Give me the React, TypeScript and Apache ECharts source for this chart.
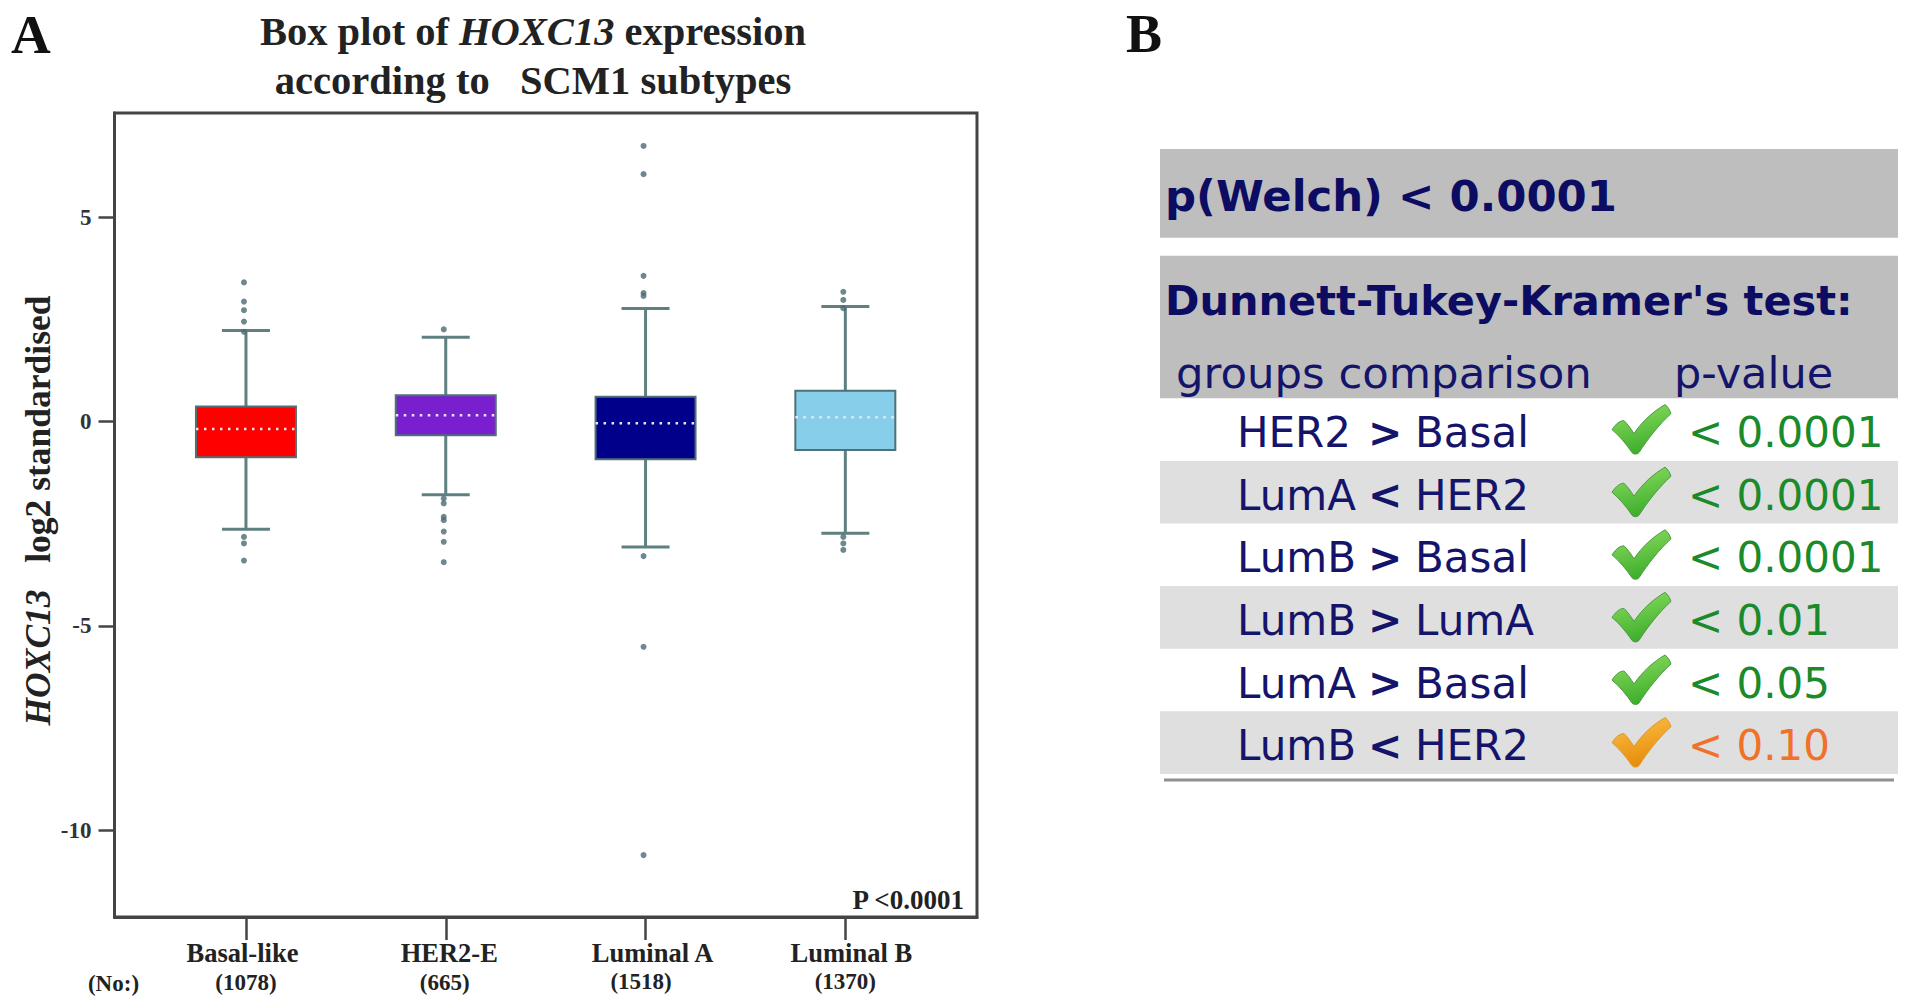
import React, { useEffect, useRef } from "react";
import * as echarts from "echarts";

const categories = ["Basal-like", "HER2-E", "Luminal A", "Luminal B"];
const counts = ["(1078)", "(665)", "(1518)", "(1370)"];
const boxColors = ["#ff0000", "#7a1fd0", "#00008b", "#87ceeb"];
// [index, low whisker, q1, median, q3, high whisker]
const boxValues = [
  [0, -2.63, -0.87, -0.18, 0.37, 2.23],
  [1, -1.79, -0.33, 0.16, 0.65, 2.07],
  [2, -3.07, -0.92, -0.04, 0.61, 2.77],
  [3, -2.73, -0.69, 0.11, 0.76, 2.82],
];
const basalOutliers = [3.41, 2.94, 2.73, 2.45, 2.2, -2.82, -2.98, -3.4];
const her2Outliers = [2.26, -1.88, -2.0, -2.33, -2.41, -2.69, -2.94, -3.44];
const lumAOutliers = [6.75, 6.06, 3.57, 3.15, 3.08, -3.29, -5.51, -10.61];
const lumBOutliers = [3.18, 2.98, 2.78, -2.82, -2.98, -3.14];
const yTicks = [-10, -5, 0, 5];

const comparisons = [
  ["HER2", ">", "Basal"],
  ["LumA", "<", "HER2"],
  ["LumB", ">", "Basal"],
  ["LumB", ">", "LumA"],
  ["LumA", ">", "Basal"],
  ["LumB", "<", "HER2"],
];
const pValues = ["< 0.0001", "< 0.0001", "< 0.0001", "< 0.01", "< 0.05", "< 0.10"];
const warnRows = [false, false, false, false, false, true];

const SERIF = "Liberation Serif";
const SANS = "DejaVu Sans";
const NAVY = "#14146b";
const STEM = "#5f8080";
const checkPath =
  "M0 25 C4 19 8 16 12 16 C15 19 19 24 22 29 C30 17 41 7 53 0 C56 2 58 6 59 9 C47 20 36 34 27 48 C25 50 22 50 20 48 C14 39 7 31 0 25 Z";

function App() {
  const ref = useRef<HTMLDivElement>(null);
  useEffect(() => {
    document.body.style.margin = "0";
    echarts.graphic.registerShape("check", echarts.graphic.extendPath(checkPath, {}));
    const chart = echarts.init(ref.current!, undefined, { renderer: "svg" });

    const txt = (text: string, x: number, y: number, fontSize: number, fill: string, fontWeight = "normal", fontFamily = SANS, align = "left") => ({
      type: "text",
      x,
      y,
      silent: true,
      style: { text, x: 0, y: 0, fontSize, fill, fontWeight, fontFamily, textAlign: align, textVerticalAlign: "middle" },
    });
    const rect = (x: number, y: number, width: number, height: number, fill: string) => ({
      type: "rect",
      silent: true,
      shape: { x, y, width, height },
      style: { fill },
    });

    const rowTop = 398.3;
    const rowH = 62.6;
    const rowEls: any[] = [];
    comparisons.forEach((c, i) => {
      const top = rowTop + i * rowH;
      const mid = top + rowH / 2;
      if (i % 2 === 1) rowEls.push(rect(1160, top, 738, rowH, "#dfdfdf"));
      rowEls.push(txt(c[0], 1237, mid + 3, 42, NAVY));
      rowEls.push(txt(c[1], 1368, mid + 3, 41, NAVY, "bold"));
      rowEls.push(txt(c[2], 1415, mid + 3, 42, NAVY));
      const warn = warnRows[i];
      rowEls.push({
        type: "check",
        x: 1612,
        y: mid - 25,
        silent: true,
        style: {
          fill: new echarts.graphic.LinearGradient(0, 0, 0.3, 1, warn
            ? [{ offset: 0, color: "#fbc24a" }, { offset: 1, color: "#e88d0c" }]
            : [{ offset: 0, color: "#8fe060" }, { offset: 1, color: "#3fae2e" }]),
          stroke: warn ? "#d99a2a" : "#4f9a45",
          lineWidth: 1,
        },
      });
      rowEls.push(txt(pValues[i], 1688, mid + 3, 42, warn ? "#f0722a" : "#1a8a2a"));
    });

    const outlierData = [basalOutliers, her2Outliers, lumAOutliers, lumBOutliers].flatMap((vals, i) =>
      vals.map((v) => [i - 0.01, v])
    );

    const option: any = {
      animation: false,
      backgroundColor: "#ffffff",
      title: {
        left: 533,
        top: 2,
        textAlign: "center",
        text: "{b|Box plot of }{i|HOXC13}{b| expression}\n{b|according to   SCM1 subtypes}",
        textStyle: {
          rich: {
            b: { fontFamily: SERIF, fontWeight: "bold", fontSize: 40.5, lineHeight: 49, color: "#222" },
            i: { fontFamily: SERIF, fontWeight: "bold", fontStyle: "italic", fontSize: 40.5, lineHeight: 49, color: "#222" },
          },
        },
        padding: [5, 10, 5, 0],
      },
      grid: { left: 114.5, top: 113, width: 862.5, height: 804, show: true, borderColor: "#444", borderWidth: 3, backgroundColor: "#fff" },
      xAxis: {
        type: "value",
        min: -0.658,
        max: 3.659,
        splitLine: { show: false },
        axisLine: { show: true, onZero: false, lineStyle: { color: "#444", width: 3 } },
        axisTick: { show: true, customValues: [0, 1, 2, 3], length: 23, lineStyle: { color: "#444", width: 2.5 } },
        axisLabel: {
          customValues: [0, 1, 2, 3],
          margin: 20,
          interval: 0,
          hideOverlap: false,
          formatter: (v: number) => `{n${v}|${categories[v]}}\n{c${v}|${counts[v]}}`,
          rich: {
            n0: { fontFamily: SERIF, fontWeight: "bold", fontSize: 26.5, color: "#222", lineHeight: 31, padding: [0, 7, 0, 0] },
            n1: { fontFamily: SERIF, fontWeight: "bold", fontSize: 26.5, color: "#222", lineHeight: 31, padding: [0, 0, 0, 7] },
            n2: { fontFamily: SERIF, fontWeight: "bold", fontSize: 26.5, color: "#222", lineHeight: 31, padding: [0, 0, 0, 14] },
            n3: { fontFamily: SERIF, fontWeight: "bold", fontSize: 26.5, color: "#222", lineHeight: 31, padding: [0, 0, 0, 12] },
            c0: { fontFamily: SERIF, fontWeight: "bold", fontSize: 23, color: "#222", lineHeight: 29 },
            c1: { fontFamily: SERIF, fontWeight: "bold", fontSize: 23, color: "#222", lineHeight: 29, padding: [0, 2, 0, 0] },
            c2: { fontFamily: SERIF, fontWeight: "bold", fontSize: 23, color: "#222", lineHeight: 27, padding: [0, 9, 0, 0] },
            c3: { fontFamily: SERIF, fontWeight: "bold", fontSize: 23, color: "#222", lineHeight: 27 },
          },
        },
      },
      yAxis: {
        type: "value",
        min: -12.125,
        max: 7.557,
        splitLine: { show: false },
        axisLine: { show: true, onZero: false, lineStyle: { color: "#444", width: 3 } },
        axisTick: { show: true, customValues: yTicks, length: 16, lineStyle: { color: "#444", width: 2.5 } },
        axisLabel: { customValues: yTicks, margin: 23, fontFamily: SERIF, fontWeight: "bold", fontSize: 23, color: "#333" },
        name: "{i|HOXC13}{b|   log2 standardised}",
        nameLocation: "middle",
        nameRotate: 90,
        nameGap: 59,
        nameMoveOverlap: false,
        nameTextStyle: {
          padding: [0, 0, 0, 9],
          rich: {
            b: { fontFamily: SERIF, fontWeight: "bold", fontSize: 35.5, color: "#222" },
            i: { fontFamily: SERIF, fontWeight: "bold", fontStyle: "italic", fontSize: 35.5, color: "#222" },
          },
        },
      },
      series: [
        {
          type: "custom",
          clip: false,
          z: 2,
          data: boxValues,
          encode: { x: 0, y: [1, 2, 3, 4, 5] },
          renderItem: (params: any, api: any) => {
            const i = api.value(0);
            const [cx, lo] = api.coord([i, api.value(1)]);
            const q1 = api.coord([i, api.value(2)])[1];
            const med = api.coord([i, api.value(3)])[1];
            const q3 = api.coord([i, api.value(4)])[1];
            const hi = api.coord([i, api.value(5)])[1];
            const hw = 50;
            const cap = 24;
            const stem = { stroke: STEM, lineWidth: 3 };
            const ln = (x1: number, y1: number, x2: number, y2: number, style: any) => ({
              type: "line",
              shape: { x1, y1, x2, y2 },
              style,
            });
            return {
              type: "group",
              children: [
                ln(cx, hi, cx, q3, stem),
                ln(cx, q1, cx, lo, stem),
                ln(cx - cap, hi, cx + cap, hi, stem),
                ln(cx - cap, lo, cx + cap, lo, stem),
                {
                  type: "rect",
                  shape: { x: cx - hw, y: q3, width: hw * 2, height: q1 - q3 },
                  style: { fill: boxColors[i], stroke: "#4f7074", lineWidth: 2 },
                },
                ln(cx - hw, med, cx + hw, med, { stroke: "#e8e8f0", lineWidth: 2.5, lineDash: [2.5, 5.5] }),
              ],
            };
          },
        },
        {
          type: "scatter",
          z: 3,
          symbol: "circle",
          symbolSize: 6,
          itemStyle: { color: "#4a6a74" },
          data: outlierData,
        },
      ],
      graphic: [
        txt("A", 11, 34, 55, "#111", "bold", SERIF),
        txt("B", 1126, 34, 54, "#111", "bold", SERIF),
        txt("(No:)", 113.5, 983, 23, "#222", "bold", SERIF, "center"),
        txt("P <0.0001", 964, 900, 27, "#222", "bold", SERIF, "right"),
        rect(1160, 149, 738, 88.7, "#bebebe"),
        rect(1160, 255.7, 738, 142.6, "#bebebe"),
        txt("p(Welch) < 0.0001", 1165, 196, 43.4, "#0c0c62", "bold"),
        txt("Dunnett-Tukey-Kramer's test:", 1165, 300, 41.5, "#0c0c62", "bold"),
        txt("groups comparison", 1176, 373, 43.4, NAVY),
        txt("p-value", 1674, 373, 43, NAVY),
        ...rowEls,
        { type: "line", silent: true, shape: { x1: 1164, y1: 780, x2: 1894, y2: 780 }, style: { stroke: "#8f8f8f", lineWidth: 3 } },
      ],
    };
    chart.setOption(option);
    return () => chart.dispose();
  }, []);
  return <div ref={ref} style={{ position: "fixed", left: 0, top: 0, width: 1913, height: 1005 }} />;
}

export default App;
